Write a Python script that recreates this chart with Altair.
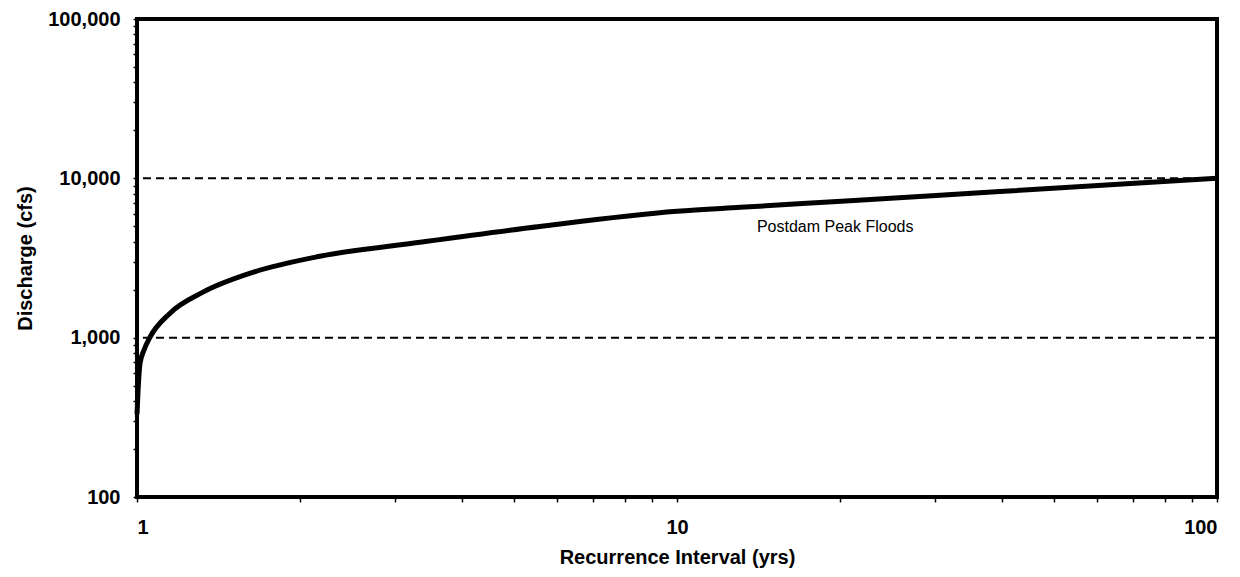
import altair as alt
import pandas as pd

# Curve (recurrence interval in years, discharge in cfs)
ri = [1.0, 1.004, 1.013, 1.03, 1.057, 1.15, 1.325, 1.64, 2.18, 3.34, 5.57, 10.0, 13.1, 20.9, 30.7, 39.6, 100.0]
q = [330, 449, 690, 834, 1007, 1420, 1930, 2570, 3240, 3970, 4990, 6210, 6580, 7230, 7830, 8260, 10000]

grid_q = [1000, 10000]
y_ticks = [m * 10 ** e for e in (2, 3, 4) for m in range(1, 10)] + [100000]
x_ticks = [m * 10 ** e for e in (0, 1) for m in range(1, 10)] + [100]

label_text = ["Postdam Peak Floods"]
label_x = [14.06]
label_y = [4930]

curve = pd.DataFrame({"ri": ri, "q": q})
grid = pd.DataFrame({"q": grid_q})
lab = pd.DataFrame({"ri": label_x, "q": label_y, "t": label_text})

FONT = "Liberation Sans"

xs = alt.Scale(type="log", domain=[1, 100], nice=False)
ys = alt.Scale(type="log", domain=[100, 100000], nice=False)

x_axis = alt.Axis(
    values=x_ticks,
    labelExpr="(datum.value == 1 || datum.value == 10 || datum.value == 100) ? format(datum.value, ',') : ''",
    title="Recurrence Interval (yrs)",
    grid=False, domain=False,
    tickColor="black", tickSize=5, tickWidth=1.5,
    labelFont=FONT, labelFontSize=20, labelFontWeight="bold", labelColor="black",
    labelPadding=15,
    titleFont=FONT, titleFontSize=20, titleFontWeight="bold", titleColor="black",
    titleY=60, titleBaseline="middle",
)
y_axis = alt.Axis(
    values=y_ticks,
    labelExpr="(datum.value == 100 || datum.value == 1000 || datum.value == 10000 || datum.value == 100000) ? format(datum.value, ',') : ''",
    title="Discharge (cfs)",
    grid=False, domain=False,
    tickColor="black", tickSize=4, tickWidth=1.5,
    labelFont=FONT, labelFontSize=20, labelFontWeight="bold", labelColor="black",
    labelPadding=13,
    titleFont=FONT, titleFontSize=20, titleFontWeight="bold", titleColor="black",
    titleX=-112, titleBaseline="middle",
)

rules = alt.Chart(grid).mark_rule(color="black", strokeWidth=2, strokeDash=[8, 5]).encode(
    y=alt.Y("q:Q", scale=ys, axis=y_axis),
)

line = alt.Chart(curve).mark_line(color="black", strokeWidth=5, interpolate="monotone").encode(
    x=alt.X("ri:Q", scale=xs, axis=x_axis),
    y=alt.Y("q:Q", scale=ys),
)

text = alt.Chart(lab).mark_text(align="left", baseline="middle", font=FONT, fontSize=16, color="black").encode(
    x=alt.X("ri:Q", scale=xs),
    y=alt.Y("q:Q", scale=ys),
    text="t:N",
)

chart = alt.layer(rules, line, text).properties(
    width=1080, height=478,
    autosize=alt.AutoSizeParams(type="none"),
    padding={"left": 129, "top": 11, "right": 15, "bottom": 72},
    background="white",
).configure_view(stroke="black", strokeWidth=4)

chart.save("out.html", embed_options={"renderer": "svg", "actions": False})
